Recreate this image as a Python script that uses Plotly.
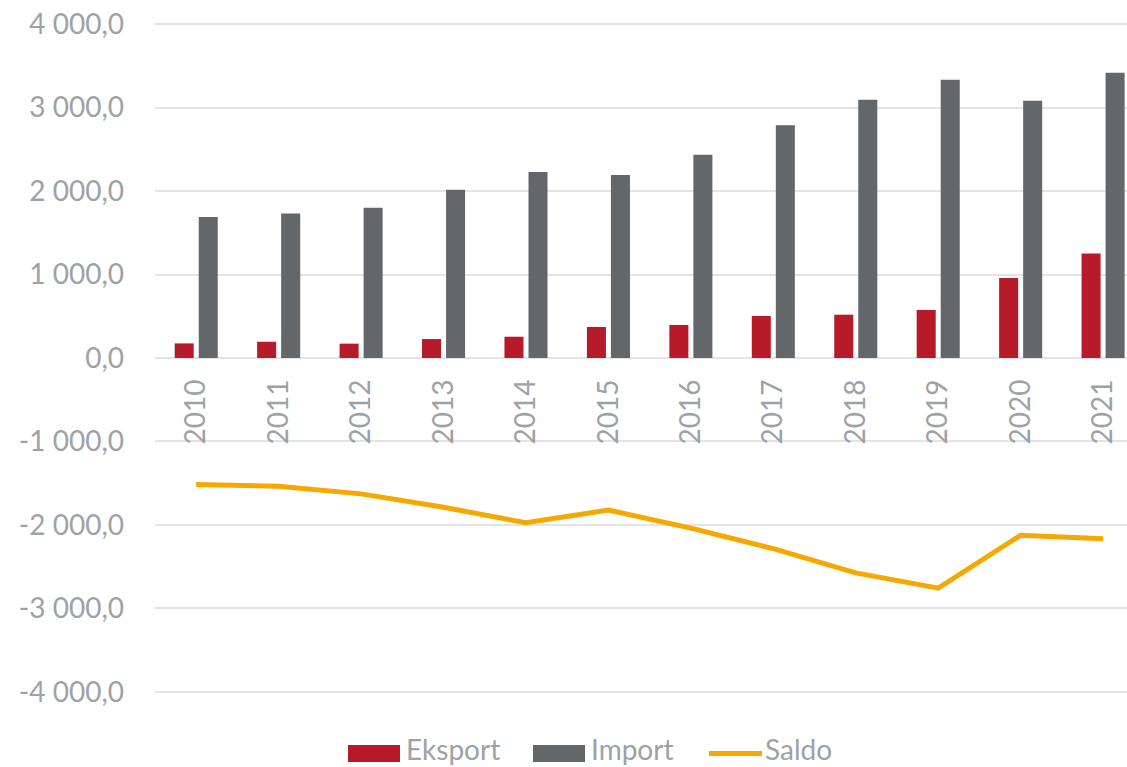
import plotly.graph_objects as go

years = ["2010", "2011", "2012", "2013", "2014", "2015",
         "2016", "2017", "2018", "2019", "2020", "2021"]
eksport = [175, 195, 172, 227, 255, 372, 396, 504, 519, 576, 959, 1251]
import_ = [1690, 1732, 1800, 2015, 2230, 2194, 2434, 2789, 3094, 3333, 3082, 3417]
saldo = [-1515, -1537, -1628, -1788, -1975, -1822, -2038, -2285, -2575, -2757, -2123, -2166]

y_ticks = [-4000, -3000, -2000, -1000, 0, 1000, 2000, 3000, 4000]
y_tick_labels = ["-4 000,0", "-3 000,0", "-2 000,0", "-1 000,0", "0,0",
                 "1 000,0", "2 000,0", "3 000,0", "4 000,0"]

RED = "#B71B2A"
GREY = "#63676A"
ORANGE = "#F6A800"
TEXT = "#9DA2A6"
GRID = "#E4E4E4"
FONT = "Lato"
FS = 28

W, H = 1127, 767
ML, MR, MT, MB = 155, 0, 20, 71

fig = go.Figure()
fig.add_trace(go.Bar(x=years, y=eksport, name="Eksport", marker_color=RED,
                     marker_line_width=0))
fig.add_trace(go.Bar(x=years, y=import_, name="Import", marker_color=GREY,
                     marker_line_width=0))
fig.add_trace(go.Scatter(x=years, y=saldo, name="Saldo", mode="lines",
                         line=dict(color=ORANGE, width=5)))

# pixel -> paper helpers for the hand-built legend
def px_x(p):
    return (p - ML) / (W - ML - MR)

def px_y(p):
    return (H - MB - p) / (H - MT - MB)

legend_items = [("rect", RED, 348, 400, "Eksport", 405),
                ("rect", GREY, 533, 585, "Import", 590),
                ("line", ORANGE, 709, 762, "Saldo", 764)]
shapes = []
annotations = []
for kind, col, x0, x1, label, tx in legend_items:
    if kind == "rect":
        shapes.append(dict(type="rect", xref="paper", yref="paper",
                           x0=px_x(x0), x1=px_x(x1), y0=px_y(762), y1=px_y(745),
                           fillcolor=col, line_width=0))
    else:
        shapes.append(dict(type="line", xref="paper", yref="paper",
                           x0=px_x(x0), x1=px_x(x1), y0=px_y(753.5), y1=px_y(753.5),
                           line=dict(color=col, width=5)))
    annotations.append(dict(xref="paper", yref="paper", x=px_x(tx), y=px_y(767),
                            xanchor="left", yanchor="bottom", text=label,
                            showarrow=False, borderpad=0,
                            font=dict(family=FONT, size=FS, color=TEXT)))

fig.update_layout(
    width=W, height=H,
    margin=dict(l=ML, r=MR, t=MT, b=MB),
    paper_bgcolor="white", plot_bgcolor="white",
    barmode="group", bargap=0.417, bargroupgap=0.208,
    showlegend=False,
    shapes=shapes, annotations=annotations,
    xaxis=dict(type="category", range=[-0.5, 11.29], anchor="free", position=0.5,
               tickangle=-90, showgrid=False, showline=False, zeroline=False,
               ticks="", ticklabelstandoff=15,
               tickfont=dict(family=FONT, size=FS, color=TEXT)),
    yaxis=dict(range=[-4050, 4050], tickvals=y_ticks, ticktext=y_tick_labels,
               showgrid=True, gridcolor=GRID, gridwidth=2,
               zeroline=True, zerolinecolor=GRID, zerolinewidth=2,
               showline=False, ticks="", ticklabelstandoff=30,
               tickfont=dict(family=FONT, size=FS, color=TEXT)),
)

fig.write_html("out.html")
